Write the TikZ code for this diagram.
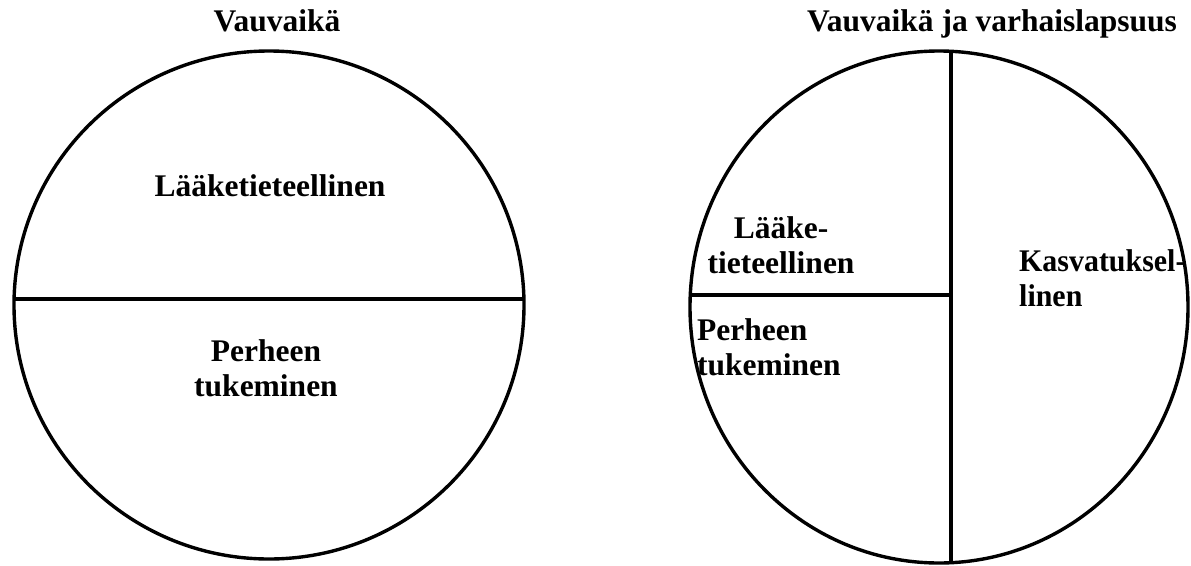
\documentclass[tikz,border=0pt]{standalone}
\usepackage{fontspec}
\setmainfont{Liberation Serif}
\begin{document}
\begin{tikzpicture}[x=1pt,y=-1pt,
  outline/.style={line width=3.4pt,black},
  label/.style={font=\fontsize{31.5}{36}\selectfont\bfseries,inner sep=0pt,anchor=base},
  lefttext/.style={label,anchor=base west,align=left}]
\useasboundingbox (0,0) rectangle (1191,565);

% left pie: two halves
\draw[outline] (269,305) ellipse [x radius=255, y radius=254];
\begin{scope}
  \clip (269,305) ellipse [x radius=255, y radius=254];
  \draw[outline] (0,299) -- (600,299);
\end{scope}

% right pie: two quarters and a half
\draw[outline] (939,307) ellipse [x radius=249, y radius=256];
\begin{scope}
  \clip (939,307) ellipse [x radius=249, y radius=256];
  \draw[outline] (951,0) -- (951,600);
  \draw[outline] (600,295) -- (951,295);
\end{scope}

% titles
\node[label] (t1) at (277,31) {Vauvaikä};
\node[label] (t2) at (992,31) {Vauvaikä ja varhaislapsuus};

% left segments
\node[label] (l1) at (270,196) {Lääketieteellinen};
\node[label] (l2) at (266,361) {Perheen};
\node[label] (l3) at (266,396) {tukeminen};

% right segments
\node[label] (r1) at (781,238) {Lääke-};
\node[label] (r2) at (781,273) {tieteellinen};
\node[lefttext,xscale=0.95] (r3) at (1019,271) {Kasvatuksel-};
\node[lefttext,xscale=0.95] (r4) at (1019,306) {linen};
\node[lefttext] (r5) at (697,340) {Perheen};
\node[lefttext] (r6) at (697,375) {tukeminen};
\end{tikzpicture}
\end{document}
